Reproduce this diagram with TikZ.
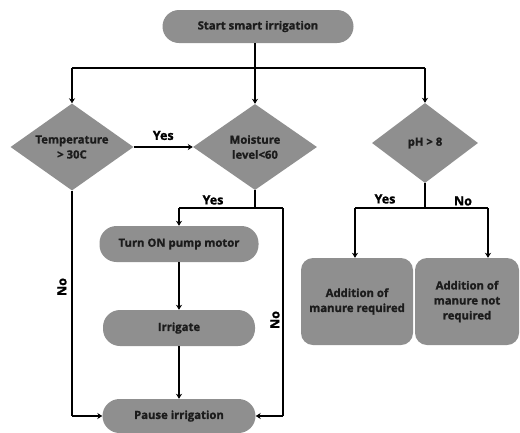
\documentclass[tikz,border=0pt]{standalone}
\usepackage{fontspec}
\setmainfont{Open Sans}[BoldFeatures={FakeBold=1.2}]
\usetikzlibrary{shapes.geometric,arrows.meta}
\definecolor{boxgray}{HTML}{8F8F8F}
\definecolor{ink}{HTML}{1C1C1C}
\begin{document}
\begin{tikzpicture}[x=1pt,y=-1pt,
  every node/.style={font=\bfseries\fontsize{11.3}{15}\selectfont, text=ink},
  pill/.style={fill=boxgray, rounded corners=#1, inner sep=0pt},
  dia/.style={diamond, fill=boxgray, inner sep=0pt, aspect=1.4},
  txt/.style={align=center, inner sep=0pt},
  conn/.style={line width=1.3pt, draw=black},
  arr/.style={conn, -{Stealth[length=5pt,width=6pt]}},
  lbl/.style={font=\bfseries\fontsize{12.5}{14}\selectfont, text=black}
]
\useasboundingbox (0,0) rectangle (520,432);

% nodes
\node[pill=16.5pt, minimum width=191pt, minimum height=33pt] (start) at (258,26.5) {Start smart irrigation};
\node[dia, minimum width=123pt, minimum height=87pt,
      label={[txt]center:{Temperature\\> 30C}}] (temp) at (72,147) {};
\node[dia, minimum width=124pt, minimum height=86pt,
      label={[txt]center:{Moisture\\level<60}}] (moist) at (255,147) {};
\node[dia, minimum width=106pt, minimum height=80pt,
      label={[txt]center:{pH > 8}}] (ph) at (425,143) {};
\node[pill=17pt, minimum width=159pt, minimum height=36pt] (pump) at (179,244) {Turn ON pump motor};
\node[pill=17pt, minimum width=152pt, minimum height=36pt] (irr) at (179,328) {Irrigate};
\node[pill=17pt, minimum width=153pt, minimum height=34pt] (pause) at (179,416) {Pause irrigation};
\node[pill=12pt, minimum width=112pt, minimum height=87pt, align=center] (add1) at (357,301.5) {Addition of\\manure required};
\node[pill=12pt, minimum width=104pt, minimum height=87pt, align=center] (add2) at (467,301.5) {Addition of\\manure not\\required};

% junction coordinates
\coordinate (hl) at (72,68);
\coordinate (hr) at (425,68);
\coordinate (ml) at (179,208);
\coordinate (mr) at (283,208);
\coordinate (mb) at (283,416);
\coordinate (tb) at (71,416);
\coordinate (pl) at (355,208);
\coordinate (pr) at (488,208);

% connectors
\draw[conn] (moist.north |- start.south) -- (moist.north |- hl);
\draw[arr] (moist.north |- hl) -- (moist.north);
\draw[conn] (hl) -- (hr);
\draw[arr] (hl) -- (temp.north);
\draw[arr] (hr) -- (ph.north);

\draw[arr] (temp.east) -- node[lbl, above=3pt, pos=0.5] {Yes} (moist.west);

\draw[conn] (moist.south) -- (moist.south |- ml);
\draw[conn] (ml) -- (mr);
\draw[arr] (ml) -- (pump.north);
\draw[conn] (mr) -- (mb);
\draw[arr] (mb) -- (pause.east);

\draw[conn] (temp.south) -- (temp.south |- tb);
\draw[arr] (temp.south |- tb) -- (pause.west);

\draw[arr] (pump.south) -- (irr.north);
\draw[arr] (irr.south) -- (pause.north);

\draw[conn] (ph.south) -- (ph.south |- pl);
\draw[conn] (pl) -- (pr);
\draw[arr] (pl) -- (pl |- add1.north);
\draw[arr] (pr) -- (pr |- add2.north);

% labels
\node[lbl] at (213,200) {Yes};
\node[lbl] at (385,199) {Yes};
\node[lbl] at (463,201) {No};
\node[lbl, rotate=90] at (62,287) {No};
\node[lbl, rotate=90] at (275,320) {No};
\end{tikzpicture}
\end{document}
